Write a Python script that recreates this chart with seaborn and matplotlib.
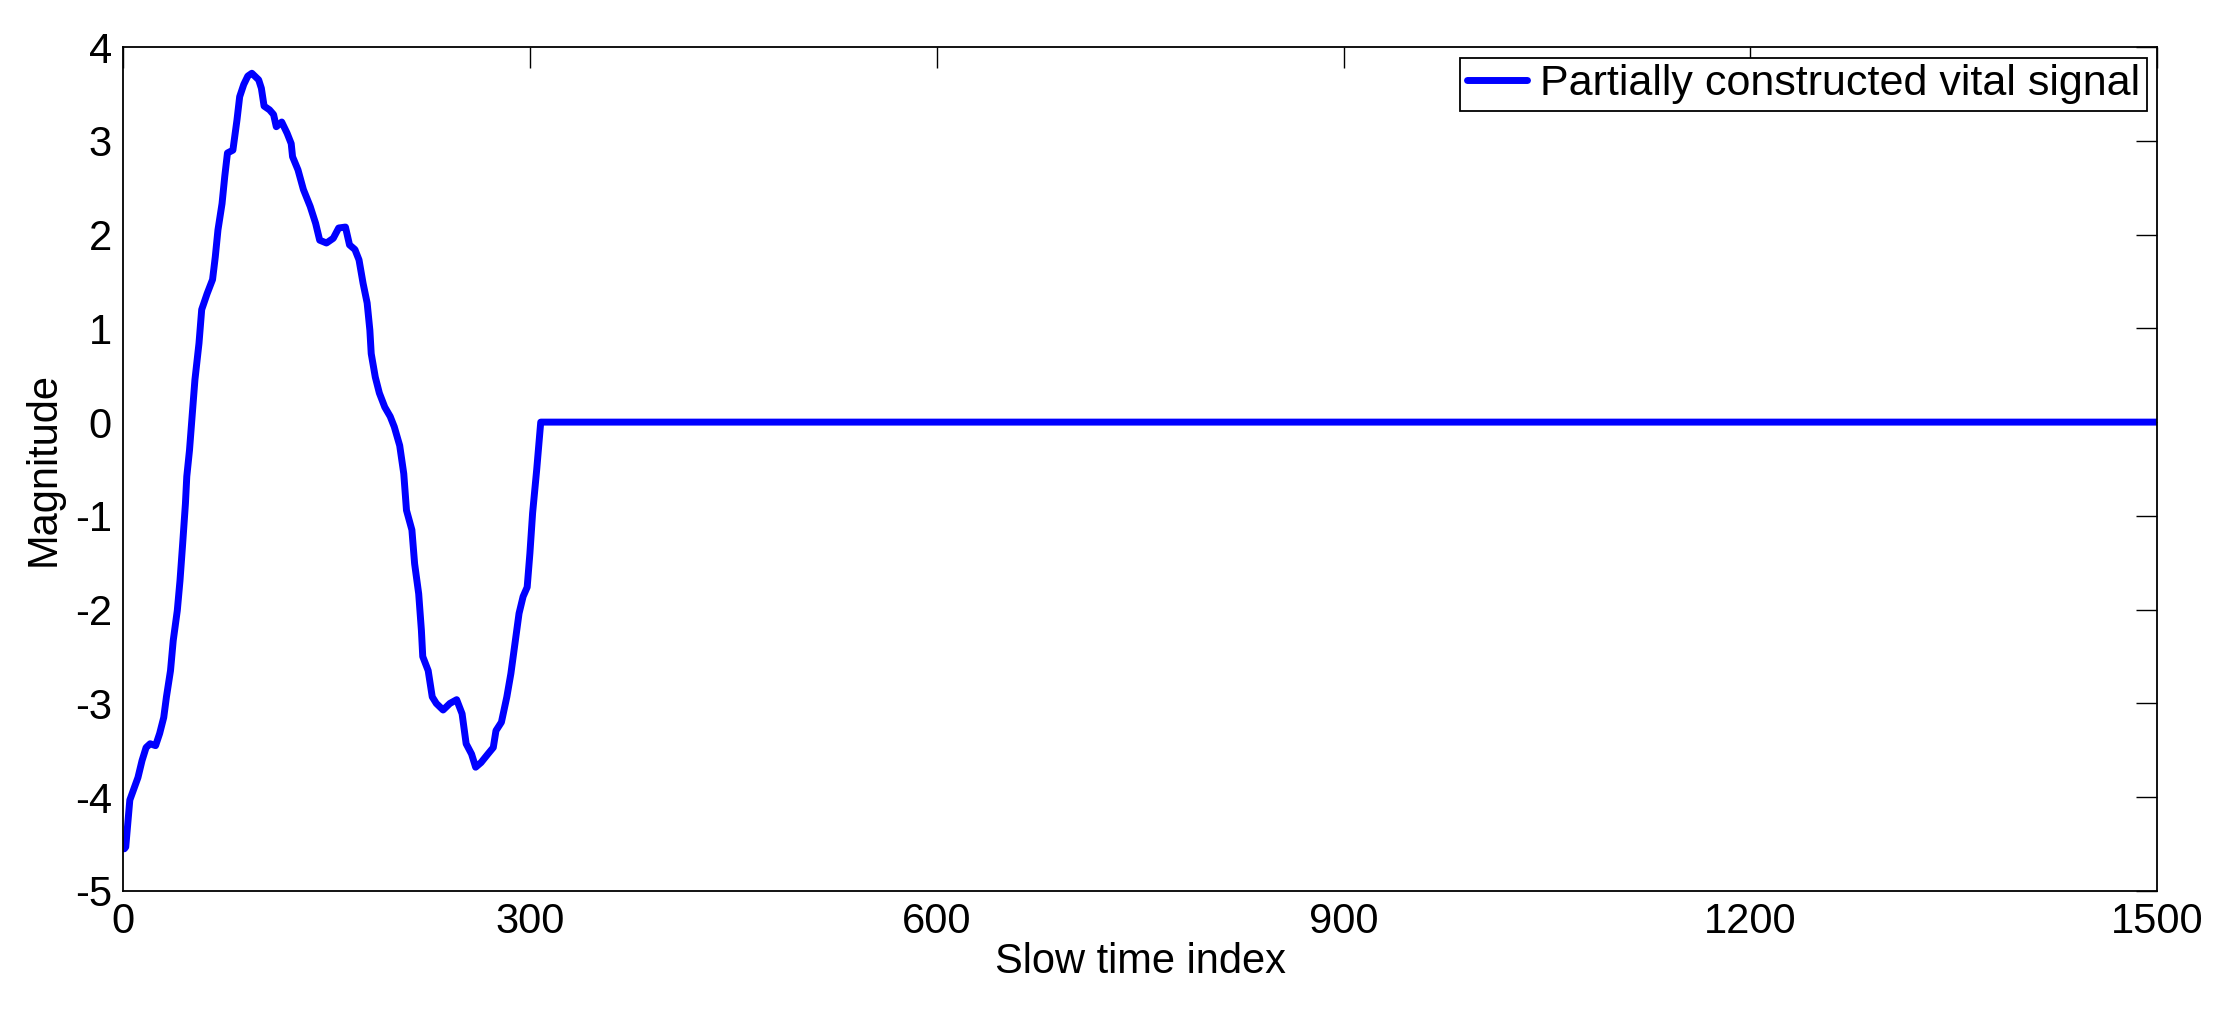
import matplotlib
matplotlib.use("Agg")
import matplotlib.pyplot as plt
import seaborn as sns
import pandas as pd

# Data
slow_time_index = [1, 2, 5, 8, 11, 14, 17, 20, 24, 27, 30, 32, 35, 37, 40, 42, 44, 46, 47, 49,
                   53, 56, 58, 62, 66, 68, 70, 73, 75, 77, 81, 84, 86, 89, 92, 95, 100, 102,
                   104, 108, 111, 113, 117, 121, 124, 125, 129, 133, 138, 142, 145, 150, 155,
                   159, 164, 167, 171, 174, 177, 180, 182, 183, 186, 189, 193, 197, 200, 204,
                   207, 209, 213, 215, 218, 220, 221, 225, 228, 231, 236, 241, 246, 250, 253,
                   257, 260, 264, 269, 273, 275, 279, 283, 286, 289, 292, 295, 298, 300, 302,
                   305, 308, 1500]
magnitude = [-4.55, -4.53, -4.03, -3.91, -3.79, -3.61, -3.47, -3.43, -3.45, -3.32, -3.15, -2.93,
             -2.65, -2.33, -2.01, -1.69, -1.29, -0.87, -0.58, -0.30,
             0.45, 0.84, 1.20, 1.37, 1.52, 1.76, 2.05, 2.33, 2.62, 2.87, 2.90, 3.22, 3.47,
             3.60, 3.69, 3.72, 3.65, 3.56, 3.37, 3.33, 3.28, 3.15, 3.20, 3.08, 2.97, 2.83,
             2.69, 2.48, 2.30, 2.12, 1.94, 1.91, 1.96, 2.07, 2.08, 1.89, 1.84, 1.73, 1.48,
             1.27, 0.98, 0.73, 0.48, 0.31, 0.16, 0.06, -0.05, -0.25, -0.55, -0.94, -1.15,
             -1.51, -1.83, -2.22, -2.50, -2.65, -2.93, -3.00, -3.07, -3.00, -2.96, -3.11,
             -3.43, -3.54, -3.68, -3.63, -3.54, -3.47, -3.29, -3.20, -2.93, -2.68, -2.36,
             -2.04, -1.86, -1.76, -1.40, -0.97, -0.51, 0.0, 0.0]
x_ticks = [0, 300, 600, 900, 1200, 1500]
y_ticks = [-5, -4, -3, -2, -1, 0, 1, 2, 3, 4]
series_label = "Partially constructed vital signal"

sns.set_theme(style="white")
plt.rcParams["font.family"] = ["Liberation Sans", "DejaVu Sans"]
plt.rcParams["axes.unicode_minus"] = False
plt.rcParams["text.color"] = "black"
plt.rcParams["axes.labelcolor"] = "black"
plt.rcParams["xtick.color"] = "black"
plt.rcParams["ytick.color"] = "black"

df = pd.DataFrame({"Slow time index": slow_time_index, "Magnitude": magnitude})

fig = plt.figure(figsize=(22.33, 10.11), dpi=100)
ax = fig.add_axes([0.0551, 0.1187, 0.9110, 0.8348])

sns.lineplot(data=df, x="Slow time index", y="Magnitude", ax=ax, color="#0000FF",
             linewidth=5.0, estimator=None, sort=False, label=series_label)

ax.set_xlim(0, 1500)
ax.set_ylim(-5, 4)
ax.set_xticks(x_ticks)
ax.set_yticks(y_ticks)
ax.set_xticklabels([str(t) for t in x_ticks])
ax.set_yticklabels([str(t) for t in y_ticks])
ax.tick_params(axis="both", which="both", direction="in", length=15, width=1.0,
               top=True, right=True, labelsize=30, colors="black", pad=8)
for s in ax.spines.values():
    s.set_color("black")
    s.set_linewidth(1.3)
    s.set_visible(True)

ax.set_xlabel("Slow time index", fontsize=30, labelpad=0, color="black")
ax.set_ylabel("Magnitude", fontsize=30, labelpad=8, color="black")

leg = ax.legend(loc="upper right", fontsize=31, frameon=True, fancybox=False,
                edgecolor="black", framealpha=1, handlelength=1.4, handletextpad=0.3,
                borderpad=0.15, borderaxespad=0.25)
leg.get_frame().set_linewidth(1.3)
for t in leg.get_texts():
    t.set_color("black")

fig.savefig("out.png", dpi=100, facecolor="white")
